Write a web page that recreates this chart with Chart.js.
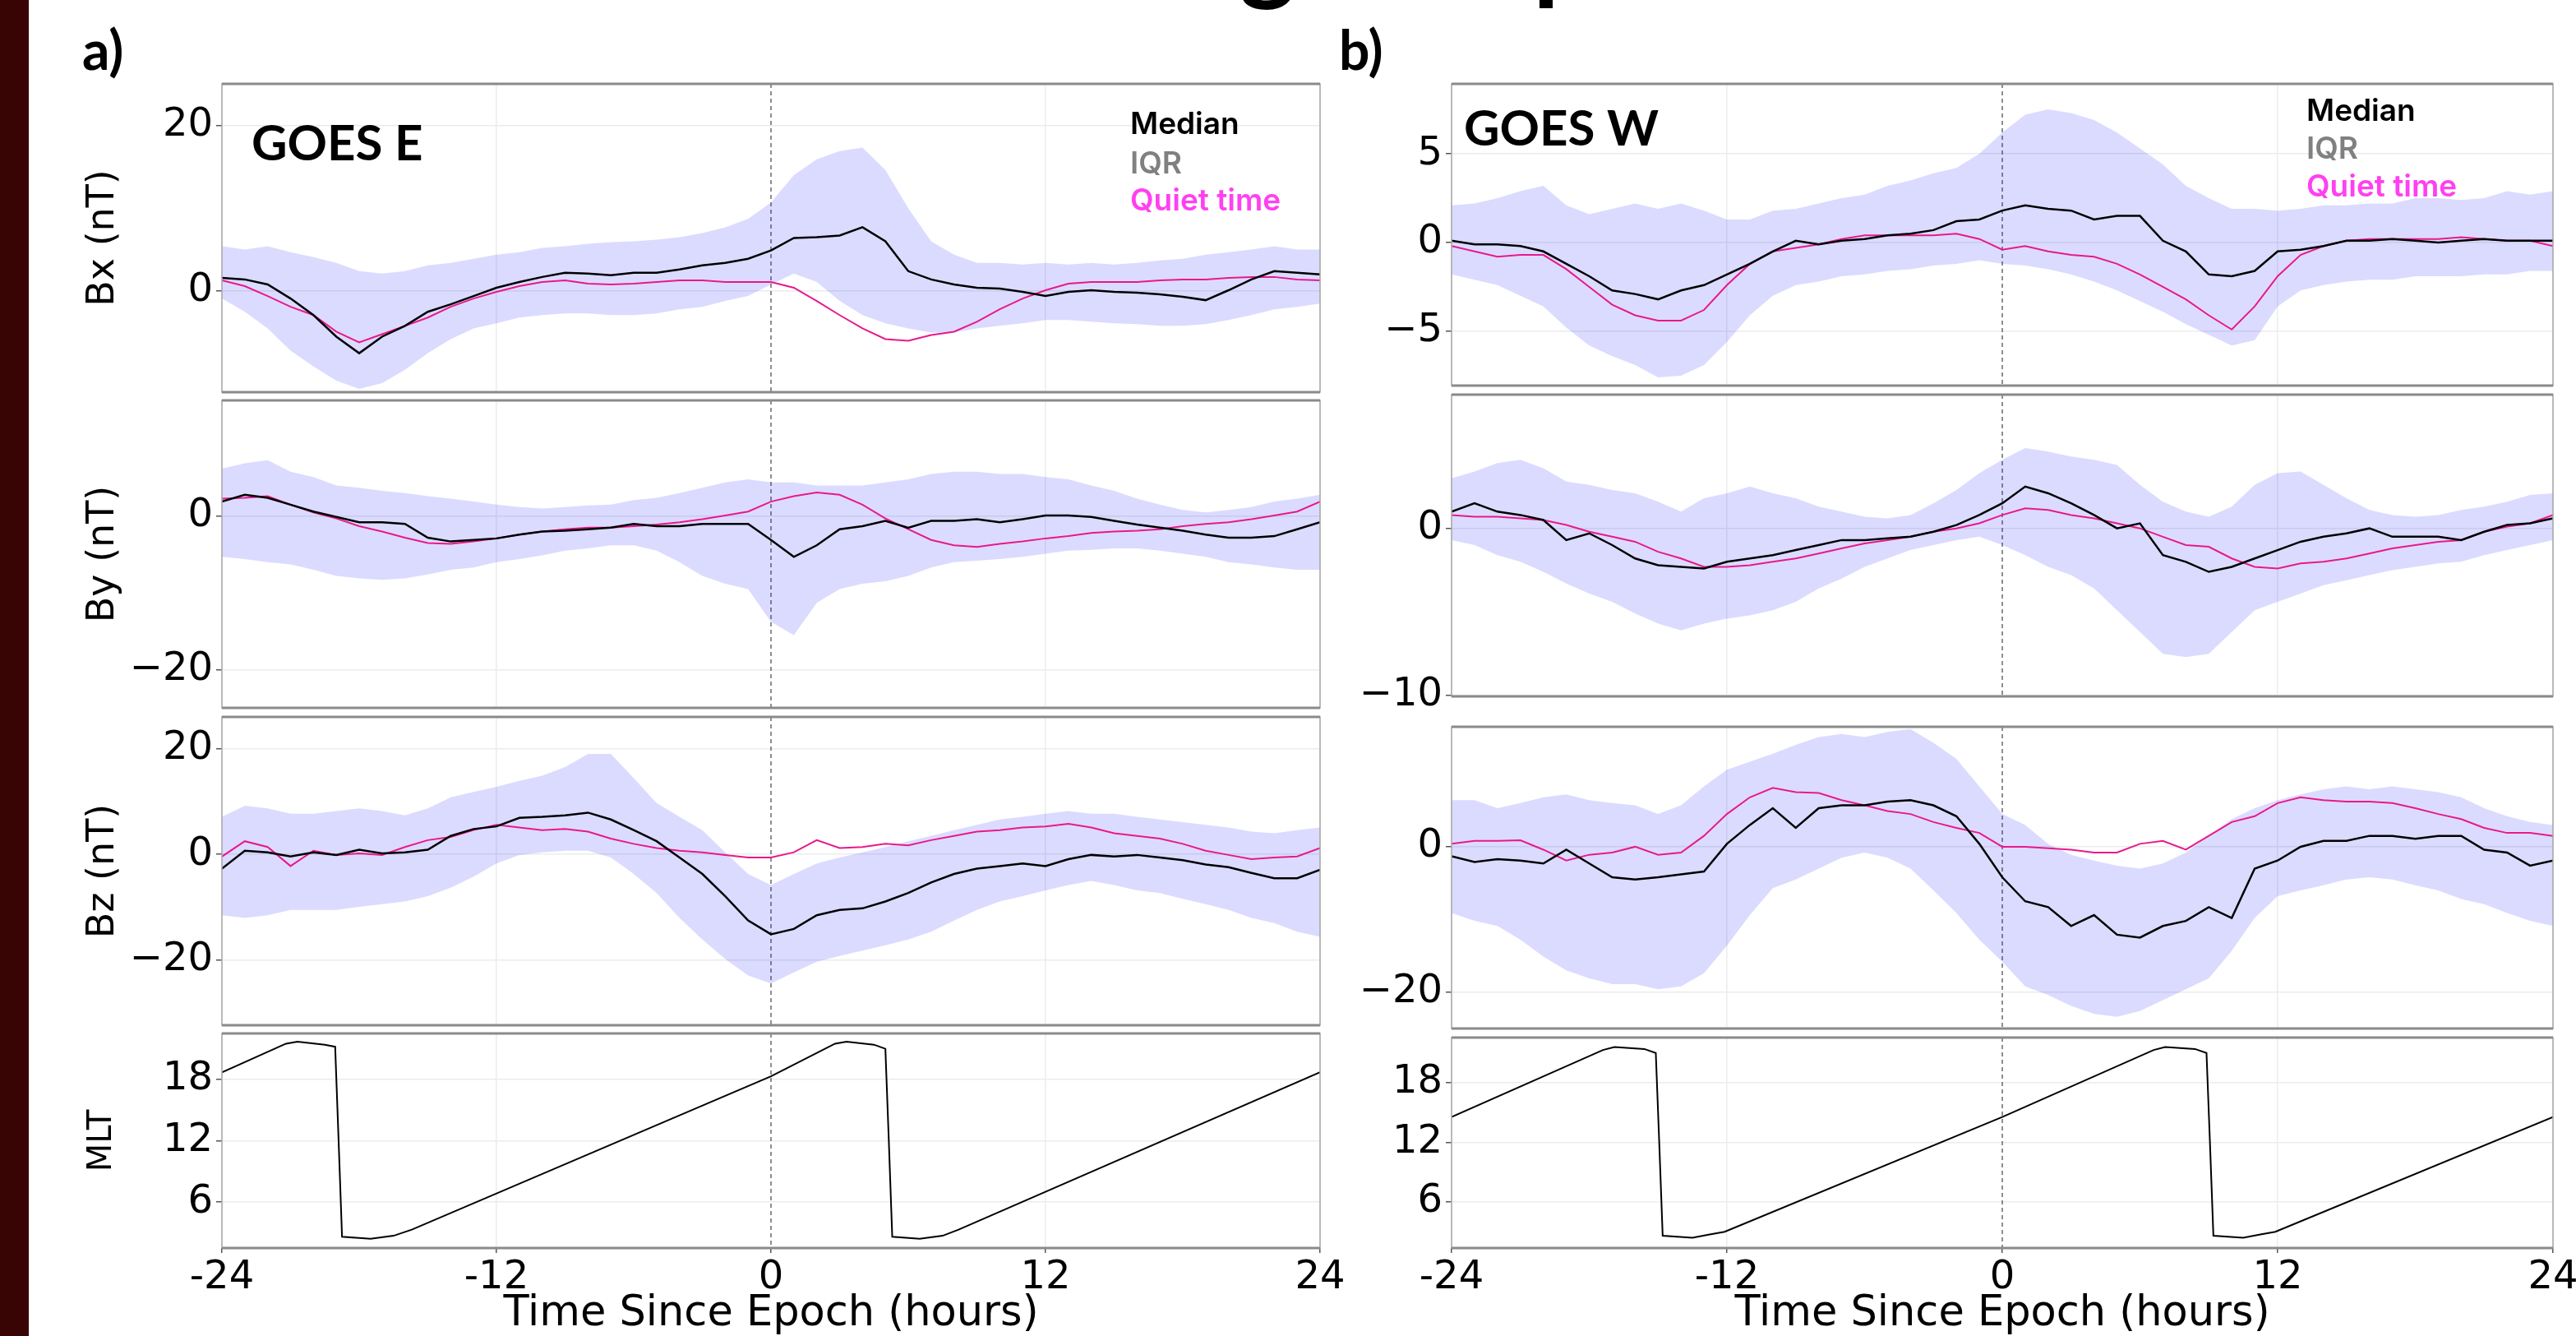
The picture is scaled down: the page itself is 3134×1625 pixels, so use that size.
<!DOCTYPE html>
<html>
<head>
<meta charset="utf-8">
<script src="https://cdn.jsdelivr.net/npm/chart.js@4.4.1/dist/chart.umd.min.js"></script>
<style>
  html, body { margin: 0; padding: 0; background: #fff; width: 3134px; height: 1625px; overflow: hidden; }
  #strip { position: absolute; left: 0; top: 0; width: 35px; height: 1625px; background: #380404; }
  canvas { position: absolute; }
</style>
</head>
<body>
<div id="strip"></div>
<canvas id="overlay" width="3134" height="120" style="left:0;top:0;width:3134px;height:120px"></canvas>
<script>
// time axis (hours since epoch), one sample per hour
const HOURS = [-24,-23,-22,-21,-20,-19,-18,-17,-16,-15,-14,-13,-12,-11,-10,-9,-8,-7,-6,-5,-4,-3,-2,-1,0,
               1,2,3,4,5,6,7,8,9,10,11,12,13,14,15,16,17,18,19,20,21,22,23,24];
const X_TICKS = [-24, -12, 0, 12, 24];
const X_TICK_LABELS = ['-24', '-12', '0', '12', '24'];
const EPOCH = 0;

// ---- GOES E ----
const BX_E_MEDIAN = [1.6,1.4,0.8,-0.9,-2.9,-5.5,-7.5,-5.5,-4.2,-2.5,-1.6,-0.6,0.4,1.1,1.7,2.2,2.1,1.9,2.2,2.2,2.6,3.1,3.4,3.9,4.9,
                     6.4,6.5,6.7,7.7,6.0,2.4,1.4,0.8,0.4,0.3,-0.1,-0.6,-0.1,0.1,-0.1,-0.2,-0.4,-0.7,-1.1,0.1,1.4,2.4,2.2,2.0];
const BX_E_QUIET = [1.3,0.6,-0.6,-1.9,-2.9,-4.9,-6.2,-5.2,-4.2,-3.2,-1.9,-0.9,-0.1,0.6,1.1,1.3,0.9,0.8,0.9,1.1,1.3,1.3,1.1,1.1,1.1,
                    0.4,-1.2,-2.9,-4.5,-5.8,-6.0,-5.3,-4.9,-3.7,-2.2,-0.9,0.1,0.9,1.1,1.1,1.1,1.3,1.4,1.4,1.6,1.7,1.7,1.4,1.3];
const BX_E_Q3 = [5.4,5.0,5.4,4.7,4.1,3.4,2.4,2.1,2.4,3.1,3.4,3.9,4.4,4.7,5.2,5.4,5.7,5.9,6.0,6.2,6.5,7.0,7.7,8.7,10.7,
                 14.0,15.9,16.9,17.3,14.6,10.0,6.0,4.4,3.4,3.4,3.2,3.4,3.2,3.4,3.2,3.4,3.7,3.9,4.4,4.7,5.0,5.4,5.0,5.0];
const BX_E_Q1 = [-0.9,-2.5,-4.5,-7.2,-9.1,-10.8,-11.8,-11.1,-9.5,-7.5,-5.8,-4.5,-3.9,-3.2,-2.9,-2.7,-2.7,-2.9,-2.9,-2.7,-2.2,-1.9,-1.2,-0.6,0.8,
                 2.1,1.1,-1.2,-2.9,-3.9,-4.5,-5.0,-5.0,-4.5,-4.2,-3.9,-3.5,-3.5,-3.7,-3.9,-4.0,-4.2,-4.2,-4.0,-3.5,-2.9,-2.2,-1.9,-1.5];

const BY_E_MEDIAN = [1.9,2.8,2.4,1.5,0.6,-0.1,-0.8,-0.8,-1.0,-2.8,-3.3,-3.1,-2.9,-2.4,-2.0,-1.9,-1.7,-1.5,-1.0,-1.3,-1.3,-1.0,-1.0,-1.0,-3.1,
                     -5.3,-3.8,-1.7,-1.3,-0.6,-1.5,-0.6,-0.6,-0.4,-0.8,-0.4,0.1,0.1,-0.1,-0.6,-1.1,-1.5,-1.9,-2.4,-2.8,-2.8,-2.6,-1.7,-0.8];
const BY_E_QUIET = [2.3,2.4,2.6,1.5,0.5,-0.3,-1.3,-2.0,-2.8,-3.5,-3.6,-3.3,-2.9,-2.4,-2.0,-1.7,-1.5,-1.5,-1.3,-1.1,-0.8,-0.4,0.1,0.6,1.9,
                    2.6,3.1,2.8,1.5,-0.3,-1.7,-3.1,-3.8,-4.0,-3.6,-3.3,-2.9,-2.6,-2.2,-2.0,-1.9,-1.7,-1.3,-1.0,-0.8,-0.4,0.1,0.6,1.9];
const BY_E_Q3 = [6.2,6.9,7.3,5.8,5.1,4.0,3.7,3.3,3.0,2.6,2.3,1.9,1.5,1.2,1.0,1.2,1.4,1.5,2.1,2.4,3.0,3.7,4.4,4.8,4.4,
                 4.4,4.0,4.0,4.0,4.4,4.8,5.5,5.8,5.8,5.5,5.5,5.1,4.8,4.0,3.3,2.3,1.5,0.8,0.5,0.8,1.2,1.9,2.3,2.8];
const BY_E_Q1 = [-5.3,-5.6,-6.0,-6.3,-7.0,-7.8,-8.1,-8.3,-8.1,-7.6,-7.0,-6.7,-6.0,-5.6,-5.1,-4.5,-4.2,-3.8,-3.8,-4.5,-6.0,-7.8,-8.8,-9.5,-13.8,
                 -15.5,-11.3,-9.5,-8.8,-8.5,-7.8,-6.7,-6.0,-5.8,-5.6,-5.3,-4.9,-4.5,-4.4,-4.2,-4.2,-4.5,-4.9,-5.3,-6.0,-6.3,-6.7,-7.0,-7.0];

const BZ_E_MEDIAN = [-2.7,0.7,0.4,-0.4,0.4,-0.1,0.9,0.2,0.4,0.9,3.5,4.8,5.3,6.9,7.1,7.4,7.9,6.6,4.6,2.5,-0.6,-3.7,-7.9,-12.5,-15.1,
                     -14.1,-11.5,-10.5,-10.2,-8.9,-7.3,-5.3,-3.7,-2.7,-2.2,-1.7,-2.2,-0.9,-0.1,-0.4,-0.1,-0.6,-1.1,-1.9,-2.4,-3.5,-4.5,-4.5,-2.9];
const BZ_E_QUIET = [-0.4,2.5,1.4,-2.2,0.7,-0.1,0.2,-0.1,1.4,2.7,3.3,4.6,5.6,5.1,4.6,4.8,4.3,3.0,2.0,1.2,0.7,0.4,-0.1,-0.6,-0.6,
                    0.4,2.7,1.2,1.4,2.0,1.7,2.7,3.5,4.3,4.6,5.1,5.3,5.8,5.1,4.0,3.5,3.0,2.0,0.7,-0.1,-0.9,-0.6,-0.4,1.2];
const BZ_E_Q3 = [7.1,9.2,8.7,7.7,7.7,8.2,8.7,8.2,7.4,8.7,10.8,11.8,12.8,13.9,14.9,16.5,19.0,19.0,14.4,9.7,7.1,4.6,0.4,-3.7,-5.8,
                 -3.7,-1.7,-0.6,0.4,1.4,2.5,3.5,4.6,5.6,6.6,7.1,7.7,8.2,7.7,7.7,7.1,6.6,6.1,5.6,5.1,4.3,4.0,4.6,5.1];
const BZ_E_Q1 = [-11.5,-12.0,-11.5,-10.5,-10.5,-10.5,-9.9,-9.4,-8.9,-7.9,-6.3,-4.2,-1.7,-0.1,0.4,0.7,0.7,-0.6,-3.7,-7.3,-12.0,-16.1,-19.8,-22.9,-24.4,
                 -22.3,-20.3,-19.2,-18.2,-17.2,-16.1,-14.6,-12.5,-10.5,-8.9,-7.9,-6.8,-5.8,-5.0,-5.8,-6.8,-7.3,-8.4,-9.4,-10.5,-12.0,-13.0,-14.6,-15.6];

const MLT_E_HOURS = [-24,-21.2,-20.7,-19.5,-19.05,-18.9,-18.75,-17.5,-16.5,-15.7,0,2.8,3.3,4.5,5.0,5.15,5.3,6.5,7.5,8.2,24];
const MLT_E = [18.7,21.5,21.7,21.4,21.2,12.0,2.6,2.4,2.7,3.3,18.3,21.5,21.7,21.4,21.0,12.0,2.6,2.4,2.7,3.3,18.7];

// ---- GOES W ----
const BX_W_MEDIAN = [0.1,-0.1,-0.1,-0.2,-0.5,-1.2,-1.9,-2.7,-2.9,-3.2,-2.7,-2.4,-1.8,-1.2,-0.5,0.1,-0.1,0.1,0.2,0.4,0.5,0.7,1.2,1.3,1.8,
                     2.1,1.9,1.8,1.3,1.5,1.5,0.1,-0.5,-1.8,-1.9,-1.6,-0.5,-0.4,-0.2,0.1,0.1,0.2,0.1,0.0,0.1,0.2,0.1,0.1,0.1];
const BX_W_QUIET = [-0.2,-0.5,-0.8,-0.7,-0.7,-1.5,-2.5,-3.5,-4.1,-4.4,-4.4,-3.8,-2.4,-1.2,-0.5,-0.3,-0.1,0.2,0.4,0.4,0.4,0.4,0.5,0.2,-0.4,
                    -0.2,-0.5,-0.7,-0.8,-1.2,-1.8,-2.5,-3.2,-4.1,-4.9,-3.6,-1.9,-0.7,-0.2,0.1,0.2,0.2,0.2,0.2,0.3,0.2,0.1,0.1,-0.2];
const BX_W_Q3 = [2.1,2.2,2.5,2.9,3.2,2.1,1.6,1.9,2.2,1.9,2.2,1.8,1.3,1.3,1.8,1.9,2.2,2.5,2.7,3.2,3.5,3.9,4.2,5.0,6.2,
                 7.2,7.5,7.3,6.9,6.2,5.3,4.4,3.2,2.5,1.9,1.9,1.8,1.9,2.1,2.1,2.2,2.2,2.5,2.5,2.4,2.5,2.9,2.7,2.9];
const BX_W_Q1 = [-1.8,-2.1,-2.4,-3.0,-3.6,-4.8,-5.8,-6.4,-6.9,-7.6,-7.5,-6.9,-5.6,-4.1,-3.0,-2.4,-2.2,-1.9,-1.8,-1.6,-1.5,-1.3,-1.2,-1.0,-1.2,
                 -1.3,-1.5,-1.8,-2.2,-2.7,-3.3,-3.9,-4.6,-5.2,-5.8,-5.5,-3.6,-2.7,-2.4,-2.2,-2.1,-2.1,-1.9,-1.9,-1.9,-1.8,-1.8,-1.6,-1.6];

const BY_W_MEDIAN = [1.0,1.5,1.0,0.8,0.5,-0.7,-0.3,-1.0,-1.8,-2.2,-2.3,-2.4,-2.0,-1.8,-1.6,-1.3,-1.0,-0.7,-0.7,-0.6,-0.5,-0.2,0.2,0.8,1.5,
                     2.5,2.1,1.5,0.8,0.0,0.3,-1.6,-2.0,-2.6,-2.3,-1.8,-1.3,-0.8,-0.5,-0.3,0.0,-0.5,-0.5,-0.5,-0.7,-0.2,0.2,0.3,0.6];
const BY_W_QUIET = [0.8,0.7,0.7,0.6,0.5,0.2,-0.2,-0.5,-0.8,-1.4,-1.8,-2.3,-2.3,-2.2,-2.0,-1.8,-1.5,-1.2,-0.9,-0.7,-0.5,-0.2,0.0,0.3,0.8,
                    1.2,1.1,0.8,0.6,0.3,0.0,-0.5,-1.0,-1.1,-1.8,-2.3,-2.4,-2.1,-2.0,-1.8,-1.5,-1.2,-1.0,-0.8,-0.7,-0.2,0.1,0.3,0.8];
const BY_W_Q3 = [3.0,3.4,3.9,4.1,3.6,2.8,2.6,2.3,2.1,1.6,1.0,1.8,2.1,2.5,2.1,1.8,1.3,1.0,0.7,0.6,0.8,1.5,2.3,3.3,4.1,
                 4.8,4.6,4.3,4.1,3.8,2.6,1.6,1.0,0.7,1.3,2.6,3.3,3.4,2.6,1.8,1.1,0.8,0.7,0.8,1.1,1.3,1.6,2.0,2.1];
const BY_W_Q1 = [-0.7,-1.0,-1.6,-2.0,-2.6,-3.3,-3.9,-4.4,-5.1,-5.7,-6.1,-5.7,-5.4,-5.2,-4.9,-4.4,-3.6,-3.0,-2.3,-1.8,-1.3,-1.0,-0.7,-0.5,-1.0,
                 -1.6,-2.3,-2.8,-3.6,-4.9,-6.2,-7.5,-7.7,-7.5,-6.2,-4.9,-4.4,-3.9,-3.4,-3.1,-2.8,-2.5,-2.3,-2.1,-2.0,-1.6,-1.3,-1.0,-0.7];

const BZ_W_MEDIAN = [-1.3,-2.1,-1.7,-1.9,-2.3,-0.4,-2.3,-4.2,-4.5,-4.2,-3.8,-3.4,0.4,3.0,5.3,2.6,5.3,5.7,5.7,6.2,6.4,5.7,4.2,0.4,-4.2,
                     -7.5,-8.3,-10.9,-9.4,-12.1,-12.5,-10.9,-10.2,-8.3,-9.8,-3.0,-1.9,0.0,0.8,0.8,1.5,1.5,1.1,1.5,1.5,-0.4,-0.8,-2.6,-1.9];
const BZ_W_QUIET = [0.4,0.8,0.8,0.9,-0.4,-1.9,-1.1,-0.8,0.0,-1.1,-0.8,1.5,4.5,6.8,8.1,7.5,7.4,6.4,5.7,4.9,4.5,3.4,2.6,1.9,0.0,
                    0.0,-0.2,-0.4,-0.8,-0.8,0.4,0.8,-0.4,1.5,3.4,4.2,6.0,6.8,6.4,6.2,6.2,6.0,5.3,4.5,3.8,2.6,1.9,1.9,1.5];
const BZ_W_Q3 = [6.4,6.4,5.3,6.0,6.8,7.2,6.4,6.0,5.7,4.5,5.7,8.3,10.6,11.7,12.8,14.0,15.1,15.5,15.1,15.8,16.2,14.3,12.1,8.3,4.5,
                 3.0,0.4,-1.1,-1.9,-2.6,-3.0,-2.3,-0.8,1.5,3.8,5.3,6.4,7.2,7.9,8.3,7.9,8.3,7.9,7.5,6.8,5.3,4.2,3.4,3.0];
const BZ_W_Q1 = [-9.1,-10.2,-10.9,-12.8,-15.1,-17.0,-18.1,-18.9,-18.9,-19.6,-19.2,-17.4,-13.6,-9.4,-5.7,-4.5,-3.0,-1.5,-0.8,-1.5,-3.0,-6.0,-9.1,-12.8,-15.8,
                 -19.2,-20.4,-21.9,-23.0,-23.4,-22.6,-21.1,-19.6,-18.1,-14.3,-9.8,-6.8,-6.0,-5.3,-4.5,-4.2,-4.5,-5.3,-6.0,-7.2,-7.9,-9.1,-10.2,-10.9];

const MLT_W_HOURS = [-24,-17.4,-16.9,-15.6,-15.1,-14.95,-14.8,-13.5,-12.8,-12.1,0,6.6,7.1,8.4,8.9,9.05,9.2,10.5,11.2,11.9,24];
const MLT_W = [14.55,21.3,21.6,21.4,21.0,12.0,2.6,2.4,2.7,3.0,14.55,21.3,21.6,21.4,21.0,12.0,2.6,2.4,2.7,3.0,14.55];

// y tick values per panel
const BX_E_TICKS = [0, 20];
const BY_E_TICKS = [-20, 0];
const BZ_E_TICKS = [-20, 0, 20];
const MLT_TICKS = [6, 12, 18];
const BX_W_TICKS = [-5, 0, 5];
const BY_W_TICKS = [-10, 0];
const BZ_W_TICKS = [-20, 0];

const FONT = "'DejaVu Sans', sans-serif";
const PT = 30, PB = 30, PR = 44, XAXIS_H = 111;

function tickText(v) {
    return v < 0 ? '\u2212' + Math.abs(v) : String(v);
}

function pts(xs, ys) {
    return xs.map(function (x, i) { return { x: x, y: ys[i] }; });
}

// grey box round each axes, and dashed line at the epoch
const framePlugin = {
    id: 'frame',
    beforeDatasetsDraw(chart) {
        const ctx = chart.ctx, a = chart.chartArea;
        const px = chart.scales.x.getPixelForValue(EPOCH);
        ctx.save();
        ctx.strokeStyle = '#444';
        ctx.lineWidth = 1.2;
        ctx.setLineDash([5, 4]);
        ctx.beginPath();
        ctx.moveTo(px, a.top);
        ctx.lineTo(px, a.bottom);
        ctx.stroke();
        ctx.restore();
    },
    afterDraw(chart) {
        const ctx = chart.ctx, a = chart.chartArea;
        ctx.save();
        ctx.strokeStyle = '#a8a8a8';
        ctx.lineWidth = 1.5;
        ctx.strokeRect(a.left, a.top, a.right - a.left, a.bottom - a.top);
        ctx.strokeStyle = '#8a8a8a';
        ctx.lineWidth = 3;
        ctx.beginPath();
        ctx.moveTo(a.left, a.top); ctx.lineTo(a.right, a.top);
        ctx.moveTo(a.left, a.bottom); ctx.lineTo(a.right, a.bottom);
        ctx.stroke();
        ctx.restore();
    }
};

function notesPlugin(items, offX, offY) {
    return {
        id: 'notes',
        afterDraw(chart) {
            const ctx = chart.ctx;
            ctx.save();
            ctx.textBaseline = 'alphabetic';
            ctx.textAlign = 'left';
            items.forEach(function (t) {
                ctx.font = t.font;
                ctx.fillStyle = t.color;
                ctx.fillText(t.text, t.x - offX, t.y - offY);
            });
            ctx.restore();
        }
    };
}

function makePanel(p) {
    const axisW = p.x0 - p.left;
    const bottomH = p.bottom ? XAXIS_H : PB;
    const w = axisW + (p.x1 - p.x0) + PR;
    const h = PT + (p.y1 - p.y0) + bottomH;
    const cv = document.createElement('canvas');
    cv.width = w; cv.height = h;
    cv.style.left = p.left + 'px';
    cv.style.top = (p.y0 - PT) + 'px';
    cv.style.width = w + 'px';
    cv.style.height = h + 'px';
    document.body.appendChild(cv);

    let datasets;
    if (p.mlt) {
        datasets = [{ data: pts(p.mlt[0], p.mlt[1]), borderColor: '#000', borderWidth: 2, pointRadius: 0, fill: false }];
    } else {
        datasets = [
            { data: pts(HOURS, p.q3), borderWidth: 0, borderColor: 'rgba(0,0,0,0)', pointRadius: 0, fill: '+1', backgroundColor: 'rgba(0,0,255,0.14)', order: 3 },
            { data: pts(HOURS, p.q1), borderWidth: 0, borderColor: 'rgba(0,0,0,0)', pointRadius: 0, fill: false, order: 3 },
            { data: pts(HOURS, p.quiet), borderColor: '#e8198b', borderWidth: 2, pointRadius: 0, fill: false, order: 2 },
            { data: pts(HOURS, p.median), borderColor: '#000', borderWidth: 2.5, pointRadius: 0, fill: false, order: 1 }
        ];
    }

    const plugins = [framePlugin];
    if (p.notes) plugins.push(notesPlugin(p.notes, p.left, p.y0 - PT));

    new Chart(cv, {
        type: 'line',
        data: { datasets: datasets },
        options: {
            responsive: false,
            animation: false,
            devicePixelRatio: 1,
            layout: { padding: { top: PT, right: PR, bottom: p.bottom ? 0 : PB, left: 0 } },
            plugins: { legend: { display: false }, tooltip: { enabled: false } },
            scales: {
                x: {
                    type: 'linear', min: -24, max: 24,
                    afterBuildTicks: function (s) { s.ticks = X_TICKS.map(function (v) { return { value: v }; }); },
                    afterFit: function (s) {
                        s.height = p.bottom ? XAXIS_H : 0;
                        s.paddingLeft = 0; s.paddingRight = 0;
                    },
                    grid: {
                        color: function (c) { return c.tick && c.tick.value === EPOCH ? 'rgba(0,0,0,0)' : '#ececec'; },
                        lineWidth: 1.5, drawTicks: !!p.bottom, tickLength: 6, tickColor: '#555'
                    },
                    border: { display: false },
                    ticks: {
                        display: !!p.bottom, padding: 2, autoSkip: false, maxRotation: 0,
                        font: { family: FONT, size: 48 }, color: '#000',
                        callback: function (v, i) { return X_TICK_LABELS[i]; }
                    },
                    title: { display: !!p.bottom, text: 'Time Since Epoch (hours)', font: { family: FONT, size: 51 }, color: '#000', padding: 0 }
                },
                y: {
                    min: p.yMin, max: p.yMax,
                    afterBuildTicks: function (s) { s.ticks = p.yTicks.map(function (v) { return { value: v }; }); },
                    afterFit: function (s) {
                        s.width = axisW;
                        s.paddingTop = 0; s.paddingBottom = 0;
                    },
                    grid: { color: '#ececec', lineWidth: 1.5, tickLength: 7, tickColor: '#555' },
                    border: { display: false },
                    ticks: { padding: 4, font: { family: FONT, size: 48 }, color: '#000', callback: function (v) { return tickText(v); } },
                    title: {
                        display: !!p.yTitle, text: p.yTitle || '', color: '#000',
                        font: { family: FONT, size: p.yTitleSize || 46 },
                        padding: { top: p.yTitlePad || 0, bottom: 0 }
                    }
                }
            }
        },
        plugins: plugins
    });
}

const LEG_FONT = "600 37px Inter, 'Open Sans', sans-serif";
const GOES_FONT = "bold 60px Lato, 'Open Sans', sans-serif";

// left column: GOES E
makePanel({ left: 35, x0: 270, x1: 1606, y0: 102, y1: 477, yMin: -12.2, yMax: 25, yTicks: BX_E_TICKS,
    median: BX_E_MEDIAN, quiet: BX_E_QUIET, q1: BX_E_Q1, q3: BX_E_Q3, yTitle: 'Bx (nT)', yTitlePad: 63,
    notes: [
        { text: 'GOES E', x: 306, y: 195, font: GOES_FONT, color: '#000' },
        { text: 'Median', x: 1375, y: 163, font: LEG_FONT, color: '#000' },
        { text: 'IQR', x: 1375, y: 211, font: LEG_FONT, color: '#808080' },
        { text: 'Quiet time', x: 1375, y: 256, font: LEG_FONT, color: '#ff40f0' }
    ] });
makePanel({ left: 35, x0: 270, x1: 1606, y0: 487, y1: 861, yMin: -25, yMax: 15.1, yTicks: BY_E_TICKS,
    median: BY_E_MEDIAN, quiet: BY_E_QUIET, q1: BY_E_Q1, q3: BY_E_Q3, yTitle: 'By (nT)', yTitlePad: 63 });
makePanel({ left: 35, x0: 270, x1: 1606, y0: 872, y1: 1247, yMin: -32.3, yMax: 26, yTicks: BZ_E_TICKS,
    median: BZ_E_MEDIAN, quiet: BZ_E_QUIET, q1: BZ_E_Q1, q3: BZ_E_Q3, yTitle: 'Bz (nT)', yTitlePad: 63 });
makePanel({ left: 35, x0: 270, x1: 1606, y0: 1257, y1: 1518, yMin: 1.5, yMax: 22.5, yTicks: MLT_TICKS,
    mlt: [MLT_E_HOURS, MLT_E], bottom: true, yTitle: 'MLT', yTitleSize: 40, yTitlePad: 66 });

// right column: GOES W
makePanel({ left: 1640, x0: 1766, x1: 3106, y0: 102, y1: 469, yMin: -8.06, yMax: 8.94, yTicks: BX_W_TICKS,
    median: BX_W_MEDIAN, quiet: BX_W_QUIET, q1: BX_W_Q1, q3: BX_W_Q3,
    notes: [
        { text: 'GOES W', x: 1781, y: 177, font: GOES_FONT, color: '#000' },
        { text: 'Median', x: 2806, y: 147, font: LEG_FONT, color: '#000' },
        { text: 'IQR', x: 2806, y: 193, font: LEG_FONT, color: '#808080' },
        { text: 'Quiet time', x: 2806, y: 239, font: LEG_FONT, color: '#ff40f0' }
    ] });
makePanel({ left: 1640, x0: 1766, x1: 3106, y0: 480, y1: 847, yMin: -10.05, yMax: 8.0, yTicks: BY_W_TICKS,
    median: BY_W_MEDIAN, quiet: BY_W_QUIET, q1: BY_W_Q1, q3: BY_W_Q3 });
makePanel({ left: 1640, x0: 1766, x1: 3106, y0: 884, y1: 1251, yMin: -25, yMax: 16.5, yTicks: BZ_W_TICKS,
    median: BZ_W_MEDIAN, quiet: BZ_W_QUIET, q1: BZ_W_Q1, q3: BZ_W_Q3 });
makePanel({ left: 1640, x0: 1766, x1: 3106, y0: 1262, y1: 1518, yMin: 1.36, yMax: 22.55, yTicks: MLT_TICKS,
    mlt: [MLT_W_HOURS, MLT_W], bottom: true });

// panel letters and the bottom of the cut-off slide title
const oc = document.getElementById('overlay').getContext('2d');
oc.fillStyle = '#000';
oc.textBaseline = 'alphabetic';
oc.font = "bold 66px Lato, 'Open Sans', sans-serif";
oc.fillText('a)', 100, 85);
oc.fillText('b)', 1629, 85);
oc.font = "bold 130px Lato, 'Open Sans', sans-serif";
oc.fillText('g', 1508, -12);
oc.fillText('p', 1865, -12);
</script>
</body>
</html>
